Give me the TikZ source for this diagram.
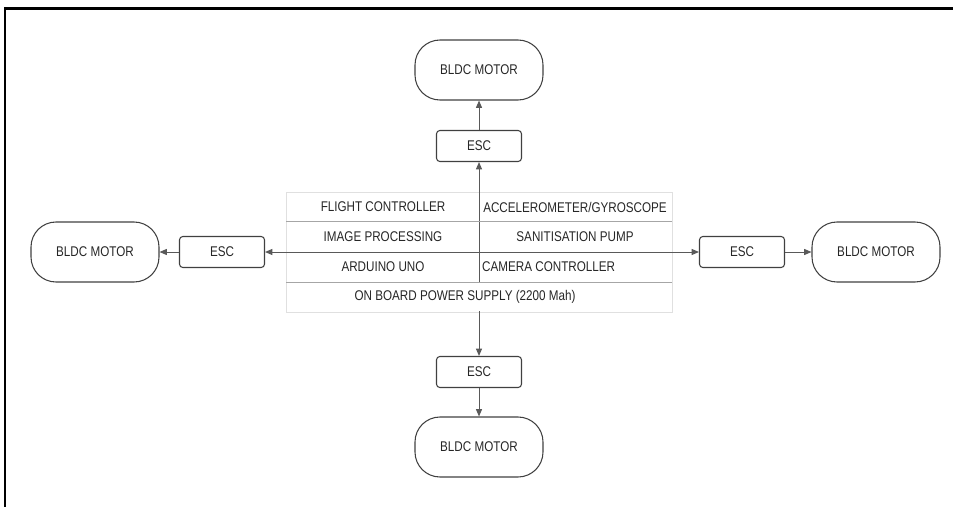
\documentclass[tikz,border=0pt]{standalone}
\usepackage{fontspec}
\setmainfont[FakeStretch=0.83]{Liberation Sans}
\usetikzlibrary{arrows.meta}

\begin{document}
\begin{tikzpicture}[x=0.03cm, y=-0.03cm,
    motor/.style={draw=black!75, line width=0.9pt, rectangle, rounded corners=0.75cm, minimum width=3.84cm, minimum height=1.8cm, text centered, font=\fontsize{12}{14}\selectfont, text=black!85},
    esc/.style={draw=black!75, line width=0.9pt, rectangle, rounded corners=0.1cm, minimum width=2.55cm, minimum height=0.93cm, text centered, font=\fontsize{12}{14}\selectfont, text=black!85, fill=white},
    cell/.style={inner sep=0pt, font=\fontsize{12}{14}\selectfont, text=black!85},
    arrow/.style={draw=black!65, line width=0.8pt, -{Triangle[length=2.2mm,width=1.8mm]}},
    rowline/.style={draw=black!35, line width=0.8pt}
]
\useasboundingbox (0,0) rectangle (953,507);

% Frame
\draw[line width=1.7pt] (5,9) -- (5,507);
\draw[line width=2.3pt] (4,8.7) -- (953,8.7);

% Board
\node[draw=black!12, line width=0.6pt, minimum width=11.58cm, minimum height=3.6cm] (board) at (479,252) {};
\coordinate (hub) at (479,252);

% ESCs
\node[esc] (escT) at (479,146) {ESC};
\node[esc] (escL) at (222,252) {ESC};
\node[esc] (escR) at (742,252) {ESC};
\node[esc] (escB) at (479,372) {ESC};

% Motors
\node[motor] (motT) at (479,70) {BLDC MOTOR};
\node[motor] (motL) at (95,252) {BLDC MOTOR};
\node[motor] (motR) at (876,252) {BLDC MOTOR};
\node[motor] (motB) at (479,447) {BLDC MOTOR};

% Arrows
\draw [arrow] (hub) -- (escT);
\draw [arrow] (hub) -- (escL);
\draw [arrow] (hub) -- (escR);
\draw [arrow] (hub) -- (escB);
\draw [arrow] (escT) -- (motT);
\draw [arrow] (escL) -- (motL);
\draw [arrow] (escR) -- (motR);
\draw [arrow] (escB) -- (motB);

% Power row
\node[fill=white, minimum width=11.5cm, minimum height=0.85cm, inner sep=0pt] (power) at (479,297) {};
\node[cell] (pwrtext) at (465,297) {ON BOARD POWER SUPPLY (2200 Mah)};

% Row lines
\draw[rowline] (286,221) -- (672,221);
\draw[rowline] (286,282) -- (672,282);

% Cells
\node[cell] (flight) at (383,207) {FLIGHT CONTROLLER};
\node[cell] (accel) at (575,207) {ACCELEROMETER/GYROSCOPE};
\node[cell] (image) at (383,237) {IMAGE PROCESSING};
\node[cell] (pump) at (575,237) {SANITISATION PUMP};
\node[cell] (arduino) at (383,267) {ARDUINO UNO};
\node[cell, anchor=west] (camera) at (482,267) {CAMERA CONTROLLER};

\end{tikzpicture}
\end{document}
